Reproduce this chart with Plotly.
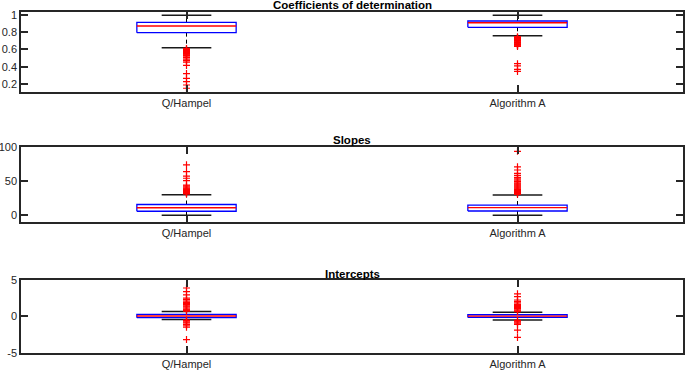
import plotly.graph_objects as go
from plotly.subplots import make_subplots

categories = ["Q/Hampel", "Algorithm A"]
titles = ["Coefficients of determination", "Slopes", "Intercepts"]

# Box statistics (q1, median, q3, lower whisker, upper whisker) per category
r2_q1 = [0.795, 0.857]
r2_median = [0.872, 0.910]
r2_q3 = [0.913, 0.930]
r2_lower = [0.621, 0.760]
r2_upper = [0.997, 0.997]
r2_out_q = [0.612, 0.605, 0.598, 0.590, 0.578, 0.565, 0.552, 0.545, 0.538, 0.530,
            0.522, 0.505, 0.487, 0.470, 0.452, 0.415, 0.320, 0.265, 0.226, 0.188, 0.150]
r2_out_a = [0.748, 0.740, 0.732, 0.725, 0.718, 0.710, 0.703, 0.695, 0.688, 0.680,
            0.672, 0.665, 0.658, 0.650, 0.642, 0.635, 0.435, 0.410, 0.370, 0.345]

slope_q1 = [6.0, 6.4]
slope_median = [11.2, 11.5]
slope_q3 = [16.0, 15.2]
slope_lower = [0.0, 0.0]
slope_upper = [30.5, 30.0]
slope_out_q = [74.6, 64.6, 58.0, 54.8, 51.2, 44.5, 43.0, 41.5, 40.0, 39.0, 38.0,
               37.0, 36.0, 35.0, 34.0, 33.0, 32.2, 31.5]
slope_out_a = [94.5, 71.6, 67.0, 62.0, 59.0, 56.0, 54.0, 52.0, 50.0, 48.0, 46.5,
               45.0, 43.5, 42.0, 40.5, 39.0, 38.0, 37.0, 36.0, 35.0, 34.0, 33.0, 32.0, 31.0]

icpt_q1 = [-0.18, -0.15]
icpt_median = [0.05, 0.03]
icpt_q3 = [0.28, 0.22]
icpt_lower = [-0.42, -0.50]
icpt_upper = [0.65, 0.55]
icpt_out_q = [3.9, 3.4, 2.95, 2.5, 2.3, 2.1, 1.9, 1.75, 1.6, 1.45, 1.3, 1.15, 1.0,
              0.9, 0.8, 0.7, -0.5, -0.6, -0.75, -0.9, -1.1, -1.3, -1.5, -3.2]
icpt_out_a = [3.1, 2.7, 2.25, 2.05, 1.85, 1.65, 1.5, 1.35, 1.2, 1.05, 0.9, 0.75,
              0.65, -0.55, -0.65, -0.8, -0.95, -1.1, -1.9, -2.9]

y_ranges = [[0.11, 1.031], [-10.3, 100.5], [-5, 5]]
y_ticks = [[0.2, 0.4, 0.6, 0.8, 1], [0, 50, 100], [-5, 0, 5]]
y_ticktext = [["0.2", "0.4", "0.6", "0.8", "1"], ["0", "50", "100"], ["-5", "0", "5"]]

panels = [
    (r2_q1, r2_median, r2_q3, r2_lower, r2_upper, [r2_out_q, r2_out_a]),
    (slope_q1, slope_median, slope_q3, slope_lower, slope_upper, [slope_out_q, slope_out_a]),
    (icpt_q1, icpt_median, icpt_q3, icpt_lower, icpt_upper, [icpt_out_q, icpt_out_a]),
]

W, H = 685, 370
box_half = 0.15
cap_half = 0.075
AX = "#262626"

fig = make_subplots(rows=3, cols=1)

for r, (q1, med, q3, lo, hi, outs) in enumerate(panels, start=1):
    wx, wy, cx, cy, bx, by, mx, my = [], [], [], [], [], [], [], []
    for i in range(len(categories)):
        x = i + 1
        # whiskers (dashed)
        wx += [x, x, None, x, x, None]
        wy += [q3[i], hi[i], None, q1[i], lo[i], None]
        # caps
        cx += [x - cap_half, x + cap_half, None, x - cap_half, x + cap_half, None]
        cy += [hi[i], hi[i], None, lo[i], lo[i], None]
        # box
        bx += [x - box_half, x + box_half, x + box_half, x - box_half, x - box_half, None]
        by += [q1[i], q1[i], q3[i], q3[i], q1[i], None]
        # median
        mx += [x - box_half, x + box_half, None]
        my += [med[i], med[i], None]
    fig.add_trace(go.Scatter(x=wx, y=wy, mode="lines", line=dict(color="black", width=1, dash="4px,3px"),
                             hoverinfo="skip", showlegend=False), row=r, col=1)
    fig.add_trace(go.Scatter(x=cx, y=cy, mode="lines", line=dict(color="#1a1a1a", width=1.5),
                             hoverinfo="skip", showlegend=False), row=r, col=1)
    fig.add_trace(go.Scatter(x=bx, y=by, mode="lines", line=dict(color="#0000ff", width=1.3),
                             hoverinfo="skip", showlegend=False), row=r, col=1)
    fig.add_trace(go.Scatter(x=mx, y=my, mode="lines", line=dict(color="#ff0000", width=1.3),
                             hoverinfo="skip", showlegend=False), row=r, col=1)
    for i, o in enumerate(outs):
        fig.add_trace(go.Scatter(x=[i + 1] * len(o), y=o, mode="markers",
                                 marker=dict(symbol="cross-thin", size=5,
                                             line=dict(color="#ff0000", width=1.2)),
                                 showlegend=False), row=r, col=1)

domains = [[1 - 91.7 / H, 1 - 12.3 / H], [1 - 222.3 / H, 1 - 147.3 / H], [1 - 352.7 / H, 1 - 280 / H]]
title_y = [5, 140, 274]

font = dict(family="Liberation Sans, Arial, sans-serif", size=11, color=AX)

for r in range(1, 4):
    sfx = "" if r == 1 else str(r)
    fig.layout["xaxis" + sfx].update(
        range=[0.5, 2.5], tickvals=[1, 2], ticktext=categories, ticks="inside",
        ticklen=7, tickwidth=1.5, tickcolor=AX, showline=True, linecolor=AX, linewidth=1.5,
        mirror="ticks", showgrid=False, zeroline=False, tickfont=font, domain=[0, 1],
        automargin=False,
    )
    fig.layout["yaxis" + sfx].update(
        range=y_ranges[r - 1], tickvals=y_ticks[r - 1], ticktext=y_ticktext[r - 1],
        ticks="inside", ticklen=7, tickwidth=1.5, tickcolor=AX, showline=True, linecolor=AX,
        linewidth=1.5, mirror="ticks", showgrid=False, zeroline=False, tickfont=font,
        domain=domains[r - 1], automargin=False,
    )
    fig.add_annotation(text="<b>" + titles[r - 1] + "</b>", xref="paper", yref="paper",
                       x=0.5, y=1 - title_y[r - 1] / H, xanchor="center", yanchor="middle",
                       showarrow=False, font=dict(family="Liberation Sans, Arial, sans-serif",
                                                  size=11.5, color="black"))

fig.update_layout(width=W, height=H, margin=dict(l=21, r=2, t=0, b=0),
                  plot_bgcolor="white", paper_bgcolor="white", showlegend=False)

fig.write_html("out.html", config={"displayModeBar": False},
               post_script="document.body.style.margin='0';document.body.style.overflow='hidden';")
